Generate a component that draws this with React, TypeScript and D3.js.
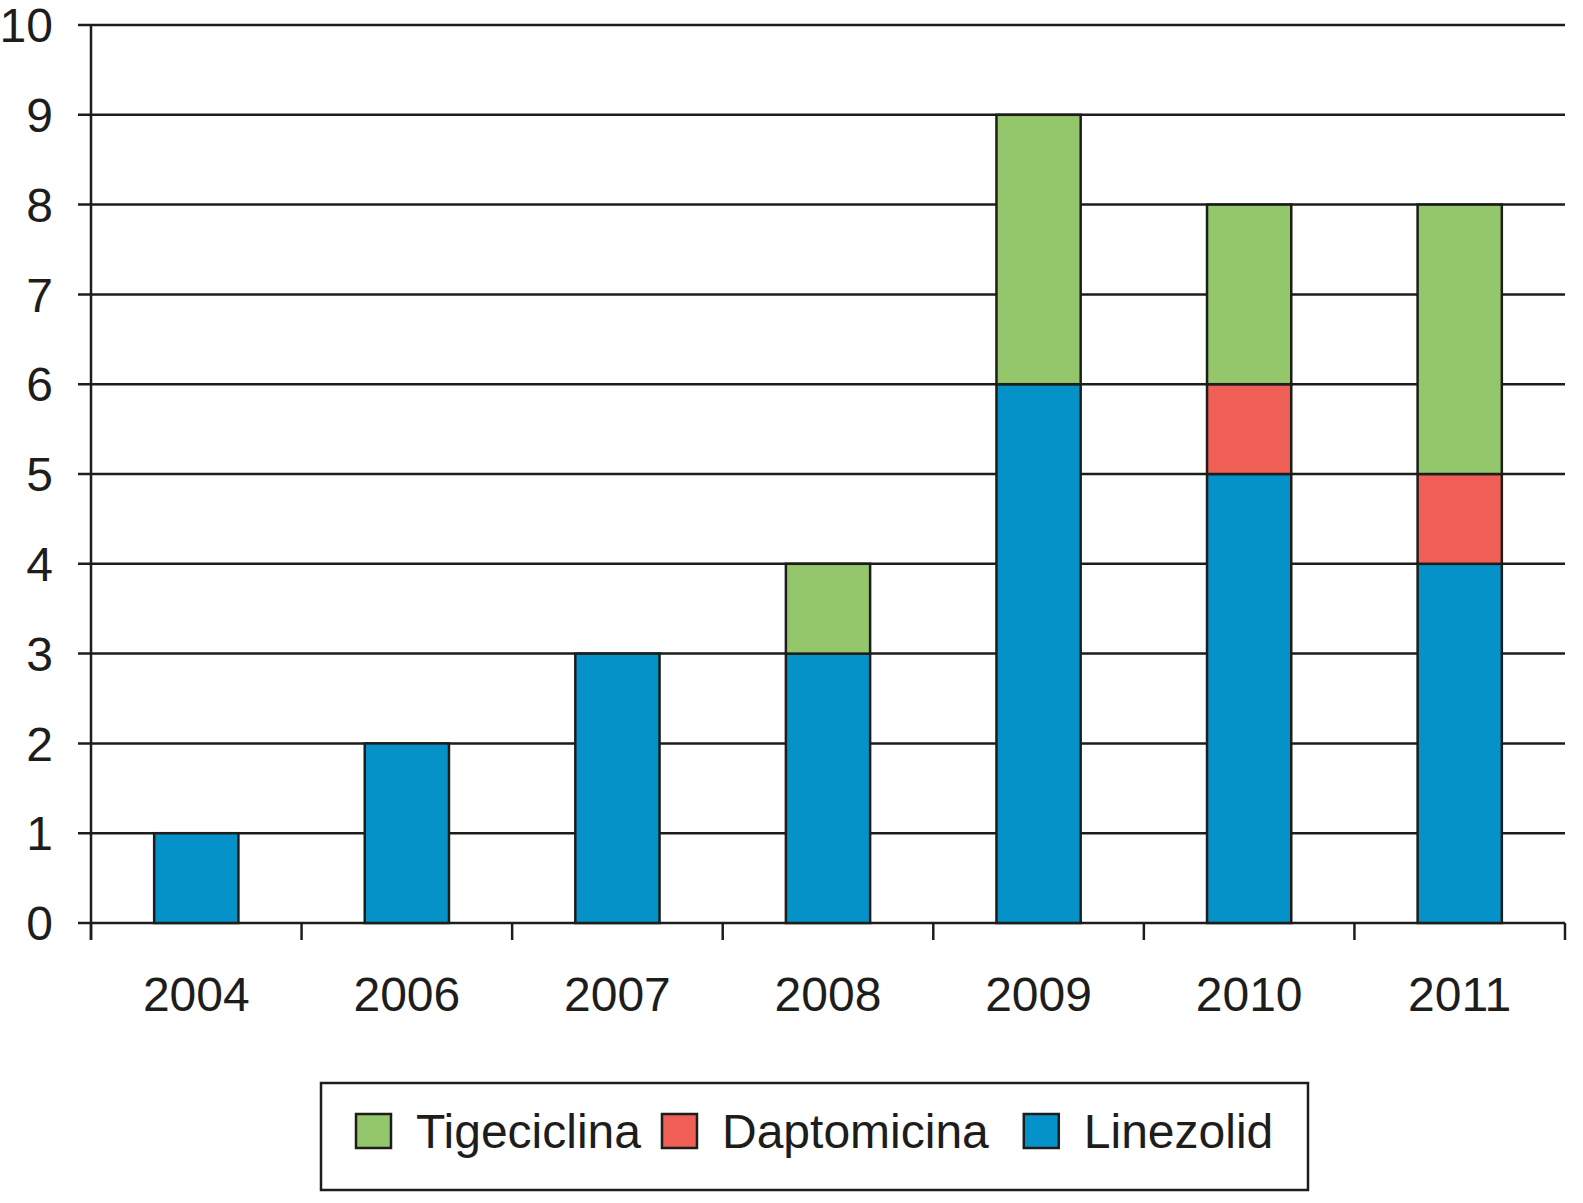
import React, { useEffect, useRef } from 'react';
import * as d3 from 'd3';

const years = ['2004', '2006', '2007', '2008', '2009', '2010', '2011'];
const linezolid = [1, 2, 3, 3, 6, 5, 4];
const daptomicina = [0, 0, 0, 0, 0, 1, 1];
const tigeciclina = [0, 0, 0, 1, 3, 2, 3];
const seriesNames = ['Linezolid', 'Daptomicina', 'Tigeciclina'];
const seriesColors = ['#0592c8', '#ef5f56', '#94c66b'];
const legendOrder = ['Tigeciclina', 'Daptomicina', 'Linezolid'];
const yTicks = [0, 1, 2, 3, 4, 5, 6, 7, 8, 9, 10];

const App: React.FC = () => {
  const ref = useRef<SVGSVGElement | null>(null);

  useEffect(() => {
    if (!ref.current) return;
    const svg = d3.select(ref.current);
    svg.selectAll('*').remove();

    const width = 1583;
    const height = 1203;
    const margin = { top: 25, right: 18, bottom: 280, left: 91 };
    const font = '"Liberation Sans", Arial, Helvetica, sans-serif';
    const ink = '#1d1d1b';
    const fontSize = 48;

    const rows = years.map((y, i) => ({
      year: y,
      Linezolid: linezolid[i],
      Daptomicina: daptomicina[i],
      Tigeciclina: tigeciclina[i],
    }));

    const x = d3.scaleBand()
      .domain(years)
      .range([margin.left, width - margin.right])
      .paddingInner(0.6)
      .paddingOuter(0.3);

    const y = d3.scaleLinear()
      .domain([0, 10])
      .range([height - margin.bottom, margin.top]);

    const color = d3.scaleOrdinal<string, string>().domain(seriesNames).range(seriesColors);

    // gridlines + y labels
    const grid = svg.append('g');
    grid.selectAll('line')
      .data(yTicks)
      .enter().append('line')
      .attr('x1', margin.left - 13)
      .attr('x2', width - margin.right)
      .attr('y1', d => y(d))
      .attr('y2', d => y(d))
      .attr('stroke', ink)
      .attr('stroke-width', 2.5);

    grid.selectAll('text')
      .data(yTicks)
      .enter().append('text')
      .attr('x', 53)
      .attr('y', d => y(d))
      .attr('dy', '0.36em')
      .attr('text-anchor', 'end')
      .attr('font-family', font)
      .attr('font-size', fontSize)
      .attr('fill', ink)
      .text(d => d);

    // stacked bars
    const stack = d3.stack<any>().keys(seriesNames)(rows);
    svg.append('g')
      .selectAll('g')
      .data(stack)
      .enter().append('g')
      .attr('fill', d => color(d.key))
      .selectAll('rect')
      .data(d => d.filter(p => p[1] - p[0] > 0))
      .enter().append('rect')
      .attr('x', d => x(d.data.year) as number)
      .attr('width', x.bandwidth())
      .attr('y', d => y(d[1]))
      .attr('height', d => y(d[0]) - y(d[1]))
      .attr('stroke', ink)
      .attr('stroke-width', 2.5);

    // y axis line
    svg.append('line')
      .attr('x1', margin.left).attr('x2', margin.left)
      .attr('y1', y(10)).attr('y2', y(0) + 17)
      .attr('stroke', ink).attr('stroke-width', 2.5);

    // x axis ticks at band boundaries
    const step = x.step();
    const bounds = d3.range(years.length + 1).map(i => margin.left + i * step);
    svg.append('g')
      .selectAll('line')
      .data(bounds)
      .enter().append('line')
      .attr('x1', d => d).attr('x2', d => d)
      .attr('y1', y(0)).attr('y2', y(0) + 17)
      .attr('stroke', ink).attr('stroke-width', 2.5);

    svg.append('g')
      .selectAll('text')
      .data(years)
      .enter().append('text')
      .attr('x', d => (x(d) as number) + x.bandwidth() / 2)
      .attr('y', y(0) + 88)
      .attr('text-anchor', 'middle')
      .attr('font-family', font)
      .attr('font-size', fontSize)
      .attr('fill', ink)
      .text(d => d);

    // legend
    const legend = svg.append('g');
    legend.append('rect')
      .attr('x', 321).attr('y', 1083)
      .attr('width', 987).attr('height', 107)
      .attr('fill', 'none').attr('stroke', ink).attr('stroke-width', 2.5);

    let lx = 356;
    const gaps = [21, 35];
    legendOrder.forEach((name, i) => {
      legend.append('rect')
        .attr('x', lx).attr('y', 1114)
        .attr('width', 35).attr('height', 34)
        .attr('fill', color(name))
        .attr('stroke', ink).attr('stroke-width', 2.5);
      const t = legend.append('text')
        .attr('x', lx + 60)
        .attr('y', 1148)
        .attr('font-family', font)
        .attr('font-size', fontSize)
        .attr('fill', ink)
        .text(name);
      const w = (t.node() as SVGTextElement).getComputedTextLength();
      lx = lx + 60 + w + (gaps[i] ?? 0);
    });
  }, []);

  return (
    <>
      <style>{'body{margin:0}'}</style>
      <svg ref={ref} width={1583} height={1203} style={{ display: 'block', background: '#fff' }} />
    </>
  );
};

export default App;
